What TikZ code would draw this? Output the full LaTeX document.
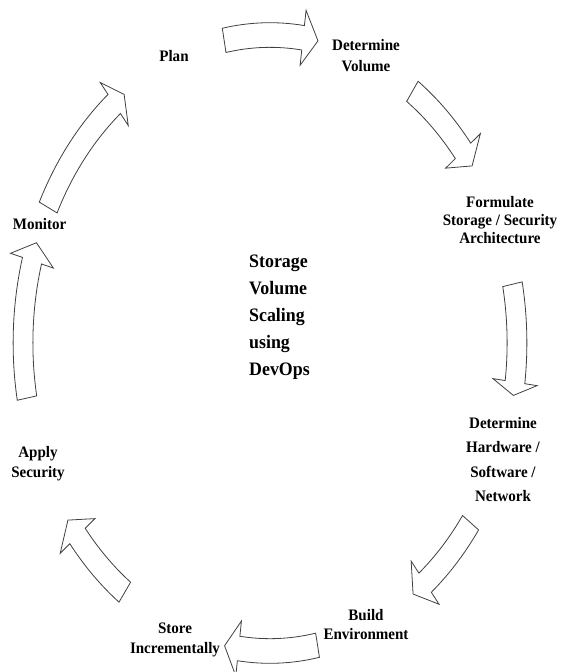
\documentclass[tikz,border=0pt]{standalone}
\usepackage{fontspec}
\newfontfamily\lblfont{Liberation Serif}[FakeStretch=0.94]
% Curved block arrow on the unit circle of the ring: tail angle, head-base angle, tip angle
\newcommand\cycarrow[3]{%
  \draw[cyclearrow] (#1:1.04) arc[start angle=#1, end angle=#2, radius=1.04]
    -- (#2:1.09) -- (#3:1) -- (#2:0.91) -- (#2:0.96)
    arc[start angle=#2, end angle=#1, radius=0.96] -- cycle;}
\begin{document}
\begin{tikzpicture}[x=1pt, y=1pt,
  cyclearrow/.style={draw=black!75, line width=0.8pt, fill=white, line join=miter},
  steplabel/.style={font=\lblfont\bfseries\fontsize{16}{19}\selectfont, align=center, inner sep=0pt},
  hublabel/.style={font=\lblfont\bfseries\fontsize{19}{27}\selectfont, align=left, inner sep=0pt}]
\useasboundingbox (0,0) rectangle (562,-672);

% ring of arrows (ellipse centred in the page)
\begin{scope}[shift={(270,-343)}, xscale=247, yscale=308]
  \cycarrow{100.7}{82.3}{78.8}
  \cycarrow{54.8}{38.6}{35.1}
  \cycarrow{11}{-7.3}{-9.8}
  \cycarrow{-35.7}{-51.1}{-54.6}
  \cycarrow{-78.9}{-97.3}{-100.6}
  \cycarrow{-126}{-141.2}{-144.9}
  \cycarrow{190.3}{164.5}{161}
  \cycarrow{153.9}{129.1}{126.2}
\end{scope}

% step labels
\node[steplabel] (plan) at (174,-55.6) {Plan};
\node[steplabel, font=\lblfont\bfseries\fontsize{16}{21}\selectfont] (volume) at (366,-55.9) {Determine\\Volume};
\node[steplabel, font=\lblfont\bfseries\fontsize{16}{18}\selectfont] (arch) at (500,-220.5) {Formulate\\Storage / Security\\Architecture};
\node[steplabel, font=\lblfont\bfseries\fontsize{16}{24.6}\selectfont] (hw) at (503,-459.6) {Determine\\Hardware /\\Software /\\Network};
\node[steplabel, font=\lblfont\bfseries\fontsize{16}{19.5}\selectfont] (build) at (366,-624.4) {Build\\Environment};
\node[steplabel, font=\lblfont\bfseries\fontsize{16}{20}\selectfont] (store) at (175,-640) {Store\\Incrementally};
\node[steplabel, font=\lblfont\bfseries\fontsize{16}{20}\selectfont] (secure) at (38,-463.9) {Apply\\Security};
\node[steplabel] (monitor) at (39.6,-224) {Monitor};

% title in the middle of the ring
\node[hublabel, anchor=west] (hub) at (249,-317.5) {Storage\\Volume\\Scaling\\using\\DevOps};
\end{tikzpicture}
\end{document}
